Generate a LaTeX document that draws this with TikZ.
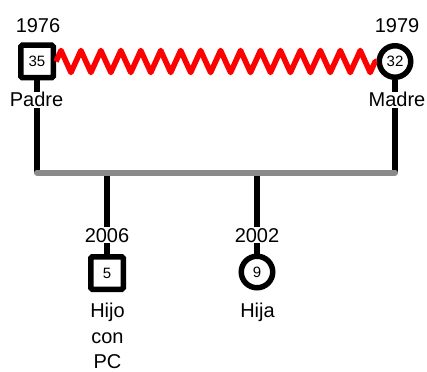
\documentclass[tikz,border=0pt]{standalone}
\usepackage{fontspec}
\setmainfont{Liberation Sans}
\usetikzlibrary{decorations.pathmorphing}
\definecolor{sibgray}{RGB}{138,138,138}
\tikzset{
  person/.style={draw=black, line width=5.5pt, fill=white, inner sep=0pt,
    font=\fontsize{15}{15}\selectfont},
  male/.style={person, rectangle, rounded corners=1.5pt, minimum size=32.5pt},
  female/.style={person, circle, minimum size=31.5pt},
  lbl/.style={fill=white, inner sep=1pt, anchor=base, font=\fontsize{20}{24}\selectfont},
  plain/.style={inner sep=1pt, anchor=base, font=\fontsize{20}{24}\selectfont},
  stem/.style={draw=black, line width=5.5pt},
  sibline/.style={draw=sibgray, line width=6pt, line cap=round},
  marriage/.style={draw=red, line width=5.5pt, line join=round,
    decorate, decoration={zigzag, segment length=19.95pt, amplitude=11pt}}
}
\begin{document}
\begin{tikzpicture}[x=1pt, y=-1pt]
\useasboundingbox (0,0) rectangle (427,371);
% persons
\node[male] (F) at (37,61.5) {35};
\node[female] (M) at (395,61.5) {32};
\node[male] (S) at (107,273) {5};
\node[female] (D) at (257,272) {9};
% sibship line anchor points
\coordinate (FB) at (37,172.5);
\coordinate (MB) at (395,172.5);
\coordinate (SB) at (107,172.5);
\coordinate (DB) at (257,172.5);
% stems
\draw[stem] (F.south) -- (FB);
\draw[stem] (M.south) -- (MB);
\draw[stem] (SB) -- (S.north);
\draw[stem] (DB) -- (D.north);
% sibship line
\draw[sibline] (FB) -- (MB);
% marriage
\draw[marriage] (F.east) -- (M.west);
% labels
\node[lbl] (y1) at (38,33) {1976};
\node[lbl] (y2) at (397,33) {1979};
\node[lbl] (lp) at (36.5,107) {Padre};
\node[lbl] (lm) at (397,107) {Madre};
\node[lbl] (y3) at (107,242) {2006};
\node[lbl] (y4) at (257,242) {2002};
\node[plain] (ls1) at (107.5,317) {Hijo};
\node[plain] (ls2) at (107.5,343) {con};
\node[plain] (ls3) at (107.5,368) {PC};
\node[plain] (ld) at (257.5,317) {Hija};
\end{tikzpicture}
\end{document}
